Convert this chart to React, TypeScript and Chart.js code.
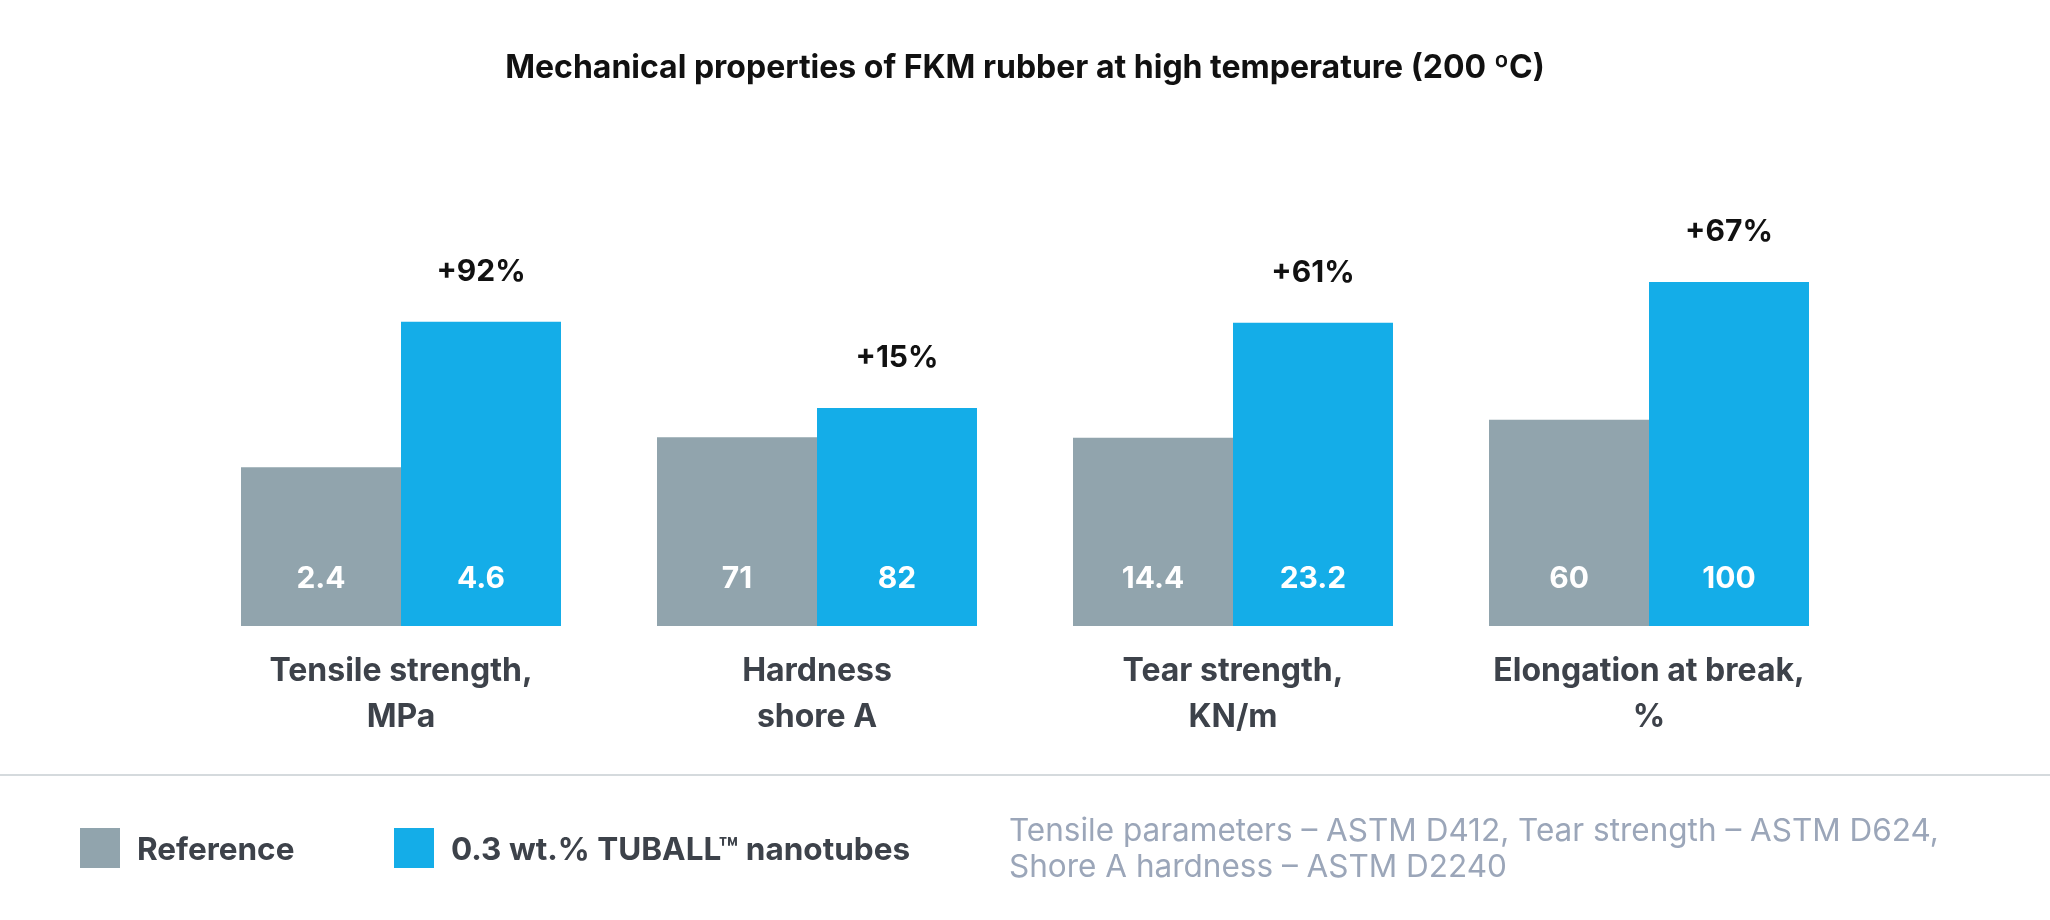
import React, { useEffect, useRef } from "react";
import { Chart, registerables } from "chart.js";

Chart.register(...registerables);

const chartTitle = "Mechanical properties of FKM rubber at high temperature (200 ºC)";
const categories = [
  ["Tensile strength,", "MPa"],
  ["Hardness", "shore A"],
  ["Tear strength,", "KN/m"],
  ["Elongation at break,", "%"],
];
const referenceValues = [2.4, 71, 14.4, 60];
const tuballValues = [4.6, 82, 23.2, 100];
// each property has its own unit, so each group is drawn against its own scale maximum
const categoryScaleMax = [6.05, 150.5, 30.6, 116.3];
const gainLabels = ["+92%", "+15%", "+61%", "+67%"];
const seriesNames = ["Reference", "0.3 wt.% TUBALL™ nanotubes"];
const seriesColors = ["#91A4AD", "#14ADE8"];
const noteLines = [
  "Tensile parameters – ASTM D412, Tear strength – ASTM D624,",
  "Shore A hardness – ASTM D2240",
];

const FONT = "Inter, 'Noto Sans', sans-serif";

const barLabelPlugin = {
  id: "barLabels",
  afterDatasetsDraw(chart: any) {
    const ctx = chart.ctx;
    const yScale = chart.scales.y;
    const base = yScale.getPixelForValue(0);
    ctx.save();
    ctx.textAlign = "center";
    ctx.textBaseline = "middle";
    ctx.font = `700 30px ${FONT}`;
    ctx.fillStyle = "#ffffff";
    [referenceValues, tuballValues].forEach((vals, di) => {
      chart.getDatasetMeta(di).data.forEach((bar: any, i: number) => {
        ctx.fillText(String(vals[i]), bar.x, base - 47);
      });
    });
    ctx.fillStyle = "#111111";
    chart.getDatasetMeta(1).data.forEach((bar: any, i: number) => {
      ctx.fillText(gainLabels[i], bar.x, bar.y - 50);
    });
    ctx.restore();
  },
};

export default function App() {
  const canvasRef = useRef<HTMLCanvasElement | null>(null);

  useEffect(() => {
    document.body.style.margin = "0";
    const canvas = canvasRef.current;
    if (!canvas) return;
    const chart = new Chart(canvas, {
      type: "bar",
      data: {
        labels: categories,
        datasets: [
          {
            label: seriesNames[0],
            data: referenceValues.map((v, i) => v / categoryScaleMax[i]),
            backgroundColor: seriesColors[0],
            borderWidth: 0,
          },
          {
            label: seriesNames[1],
            data: tuballValues.map((v, i) => v / categoryScaleMax[i]),
            backgroundColor: seriesColors[1],
            borderWidth: 0,
          },
        ],
      },
      options: {
        animation: false,
        responsive: false,
        maintainAspectRatio: false,
        devicePixelRatio: 1,
        layout: { padding: { left: 193, right: 193, top: 0, bottom: 157.2 } },
        datasets: { bar: { categoryPercentage: 0.7692, barPercentage: 1 } },
        plugins: {
          legend: { display: false },
          tooltip: { enabled: false },
          title: {
            display: true,
            text: chartTitle,
            color: "#111111",
            font: { family: FONT, size: 32, weight: "700", lineHeight: 1.2 },
            padding: { top: 49, bottom: 138.6 },
          },
        },
        scales: {
          x: {
            grid: { display: false, drawTicks: false },
            border: { display: false },
            ticks: {
              color: "#3D424A",
              padding: 22,
              font: { family: FONT, size: 32, weight: "700", lineHeight: 1.45 },
            },
          },
          y: { display: false, min: 0, max: 1 },
        },
      },
      plugins: [barLabelPlugin],
    } as any);
    return () => chart.destroy();
  }, []);

  return (
    <div style={{ position: "relative", width: 2050, height: 920, overflow: "hidden", background: "#fff", fontFamily: FONT }}>
      <canvas ref={canvasRef} width={2050} height={920} style={{ position: "absolute", left: 0, top: 0, width: 2050, height: 920 }} />
      <div style={{ position: "absolute", left: 0, top: 774, width: 2050, height: 2, background: "#D5DADD" }} />
      {seriesNames.map((name, i) => (
        <div key={name} style={{ position: "absolute", left: i === 0 ? 80 : 394, top: 828, height: 40, display: "flex", alignItems: "center" }}>
          <div style={{ width: 40, height: 40, background: seriesColors[i], marginRight: 17 }} />
          <span style={{ fontSize: 31.5, fontWeight: 700, color: "#3D424A", whiteSpace: "nowrap" }}>{name}</span>
        </div>
      ))}
      <div style={{ position: "absolute", left: 1009, top: 812, fontSize: 31.5, lineHeight: "36px", fontWeight: 400, color: "#9BA6B9", whiteSpace: "nowrap" }}>
        {noteLines.map((l) => (
          <div key={l}>{l}</div>
        ))}
      </div>
    </div>
  );
}
